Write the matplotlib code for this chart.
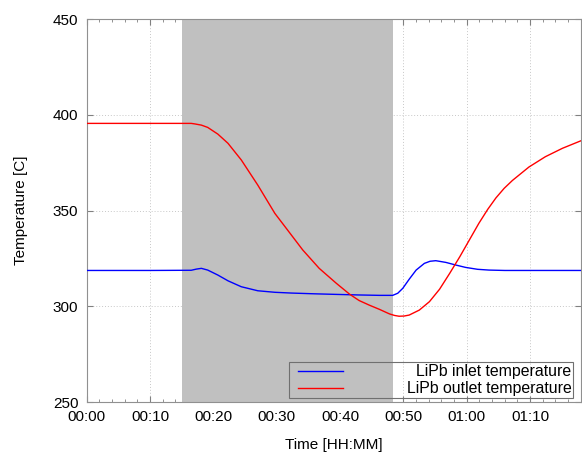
import numpy as np
import matplotlib
matplotlib.use("Agg")
import matplotlib.pyplot as plt
from matplotlib.ticker import MultipleLocator, FuncFormatter
from matplotlib.legend_handler import HandlerLine2D

plt.rcParams['font.family'] = ['Liberation Sans', 'DejaVu Sans']

# --- data (time in minutes, temperature in C) ---
t_outlet = [0, 10, 15, 16.5, 17.1, 18.1, 19.1, 20.7, 22.3, 24.4, 27.0, 29.7, 31.5,
            34.1, 36.7, 39.4, 41.5, 43.0, 44.6, 46.2, 47.8, 48.6, 49.3, 50.1, 50.9,
            52.5, 54.1, 55.7, 57.3, 58.9, 60.4, 61.9, 63.3, 64.6, 65.9, 67.2, 69.8,
            72.4, 75.1, 78.0]
T_outlet = [395.5, 395.5, 395.5, 395.5, 395.2, 394.6, 393.4, 389.9, 385.1, 376.4, 363.3,
            348.5, 340.7, 329.4, 319.8, 312.0, 306.3, 303.0, 300.6, 298.4, 296.0, 295.2,
            294.8, 294.9, 295.4, 298.0, 302.4, 308.9, 317.2, 325.9, 334.6, 343.3, 350.6,
            356.6, 361.6, 365.7, 372.7, 378.1, 382.5, 386.4]

t_inlet = [0, 10, 16.5, 17.3, 18.1, 19.1, 20.7, 22.3, 24.4, 27.0, 29.7, 32.3, 36.0,
           39.4, 43.0, 46.2, 48.3, 49.1, 49.9, 50.9, 52.0, 53.3, 54.2, 55.1, 56.7,
           58.3, 59.8, 61.7, 63.5, 66.0, 70.0, 78.0]
T_inlet = [318.7, 318.7, 318.8, 319.4, 319.8, 318.9, 316.3, 313.3, 310.2, 308.1, 307.3,
           306.9, 306.5, 306.2, 305.9, 305.7, 305.7, 306.8, 309.4, 314.1, 318.9, 322.4,
           323.5, 323.8, 322.9, 321.5, 320.3, 319.3, 318.9, 318.7, 318.7, 318.7]

shade_start = 15.0
shade_end = 48.3

fig = plt.figure(figsize=(5.82, 4.54), dpi=100)
ax = fig.add_axes([0.149, 0.1145, 0.849, 0.8436])

ax.axvspan(shade_start, shade_end, color='#c0c0c0', lw=0, zorder=1)
ax.plot(t_inlet, T_inlet, color='#0000ff', lw=1.0, label='LiPb inlet temperature', zorder=3)
ax.plot(t_outlet, T_outlet, color='#ff0000', lw=1.0, label='LiPb outlet temperature', zorder=3)

ax.set_xlim(0, 78)
ax.set_ylim(250, 450)
ax.xaxis.set_major_locator(MultipleLocator(10))
ax.xaxis.set_minor_locator(MultipleLocator(2))
ax.yaxis.set_major_locator(MultipleLocator(50))
ax.xaxis.set_major_formatter(FuncFormatter(lambda v, p: f"{int(v)//60:02d}:{int(v)%60:02d}"))

ax.grid(True, which='major', color='#c8c8c8', linestyle=(0, (1, 2)), lw=0.7)
ax.set_axisbelow(True)
for s in ax.spines.values():
    s.set_color('#909090')
ax.tick_params(which='both', direction='in', top=True, right=True, color='#808080',
               labelsize=11, pad=6)
ax.tick_params(which='major', length=4)
ax.tick_params(which='minor', length=2.5)

ax.set_xlabel('Time [HH:MM]', fontsize=11, labelpad=10)
ax.set_ylabel('Temperature [C]', fontsize=11, labelpad=18)

leg = ax.legend(loc='lower right', bbox_to_anchor=(0.984, 0.0104), borderaxespad=0,
                fontsize=11.4, handlelength=3.35, handletextpad=4.0, borderpad=0.1,
                labelspacing=0.15, fancybox=False, framealpha=1,
                handler_map={plt.Line2D: HandlerLine2D(xpad=0.47)})
leg.get_frame().set_facecolor('none')
leg.get_frame().set_edgecolor('#707070')
leg.get_frame().set_linewidth(0.8)

# right-align the legend labels
fig.canvas.draw()
r = fig.canvas.get_renderer()
widths = [t.get_window_extent(r).width for t in leg.get_texts()]
wmax = max(widths)
items = leg._legend_handle_box.get_children()[0].get_children()
for item, w in zip(items, widths):
    item.sep += (wmax - w) * 72 / fig.dpi

fig.savefig('out.png', dpi=100)
